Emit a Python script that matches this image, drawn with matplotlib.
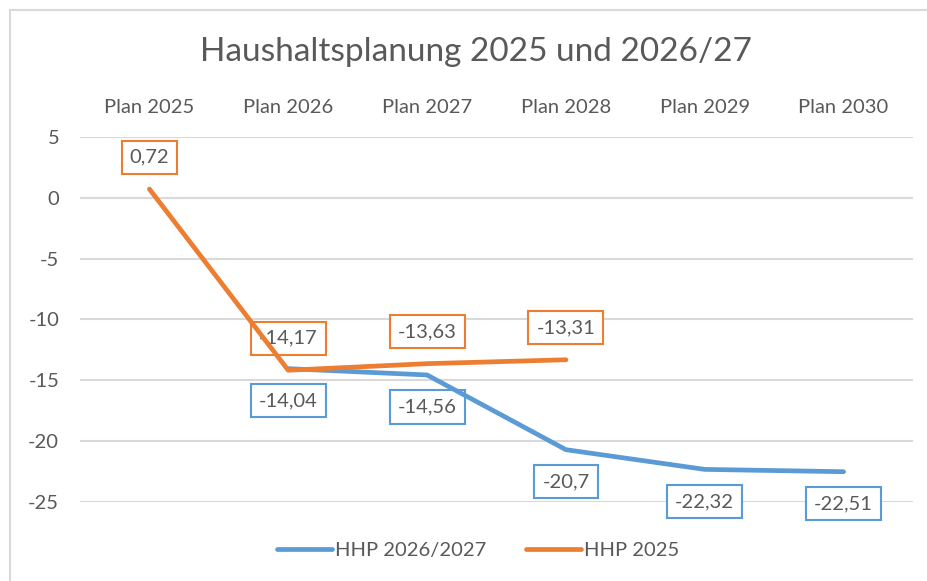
import matplotlib
matplotlib.use("Agg")
import matplotlib.pyplot as plt
import numpy as np
from matplotlib.patches import Rectangle

plt.rcParams['font.family'] = ['Lato', 'DejaVu Sans']

categories = ["Plan 2025", "Plan 2026", "Plan 2027", "Plan 2028", "Plan 2029", "Plan 2030"]
hhp_2026 = [np.nan, -14.04, -14.56, -20.7, -22.32, -22.51]
hhp_2025 = [0.72, -14.17, -13.63, -13.31, np.nan, np.nan]
yticks = [5, 0, -5, -10, -15, -20, -25]

blue = "#5B9BD5"
orange = "#ED7D31"
grey = "#595959"

fig = plt.figure(figsize=(9.28, 5.81), dpi=100)
# outer chart frame (cut off at right/bottom like the screenshot)
fig.patches.append(Rectangle((10 / 928, -0.1), 1.2, 1 - 10 / 581 + 0.1, transform=fig.transFigure,
                             fill=False, edgecolor="#d9d9d9", linewidth=1.5))

ax = fig.add_axes([80 / 928, 1 - 502 / 581, 833 / 928, 365 / 581])
x = np.arange(len(categories))

ax.plot(x, hhp_2026, color=blue, lw=3.4, solid_capstyle="round", solid_joinstyle="round",
        label="HHP 2026/2027", zorder=4)
ax.plot(x, hhp_2025, color=orange, lw=3.4, solid_capstyle="round", solid_joinstyle="round",
        label="HHP 2025", zorder=5)

def fmt(v):
    return ("%g" % v).replace(".", ",")

for xi, v in zip(x, hhp_2025):
    if not np.isnan(v):
        ax.annotate(fmt(v), (xi, v), xytext=(0, 32), textcoords="offset pixels",
                    ha="center", va="center", fontsize=14.5, color=grey, zorder=3,
                    bbox=dict(boxstyle="square,pad=0.4", fc="white", ec=orange, lw=1.5),
                    annotation_clip=False)
for xi, v in zip(x, hhp_2026):
    if not np.isnan(v):
        ax.annotate(fmt(v), (xi, v), xytext=(0, -32), textcoords="offset pixels",
                    ha="center", va="center", fontsize=14.5, color=grey, zorder=3,
                    bbox=dict(boxstyle="square,pad=0.4", fc="white", ec=blue, lw=1.5),
                    annotation_clip=False)

ax.set_xlim(-0.5, len(categories) - 0.5)
ax.set_ylim(-25, 5)
ax.set_yticks(yticks)
ax.set_yticklabels([str(t) for t in yticks])
ax.set_xticks(x)
ax.set_xticklabels(categories)
ax.xaxis.tick_top()
ax.tick_params(axis="x", length=0, pad=15, labelsize=14.5, labelcolor=grey)
ax.tick_params(axis="y", length=0, pad=15, labelsize=14.5, labelcolor=grey)
ax.grid(axis="y", color="#d9d9d9", lw=1.5)
ax.set_axisbelow(True)
for s in ax.spines.values():
    s.set_visible(False)

fig.text(476 / 928, 1 - 52 / 581, "Haushaltsplanung 2025 und 2026/27", ha="center", va="center",
         fontsize=24, color=grey)

fig.legend(loc="center", bbox_to_anchor=(478 / 928, 1 - 550 / 581), ncol=2, frameon=False,
           fontsize=14.5, labelcolor=grey, handlelength=2.7, handletextpad=0.15, columnspacing=2.0)

fig.savefig("out.png", dpi=100)
